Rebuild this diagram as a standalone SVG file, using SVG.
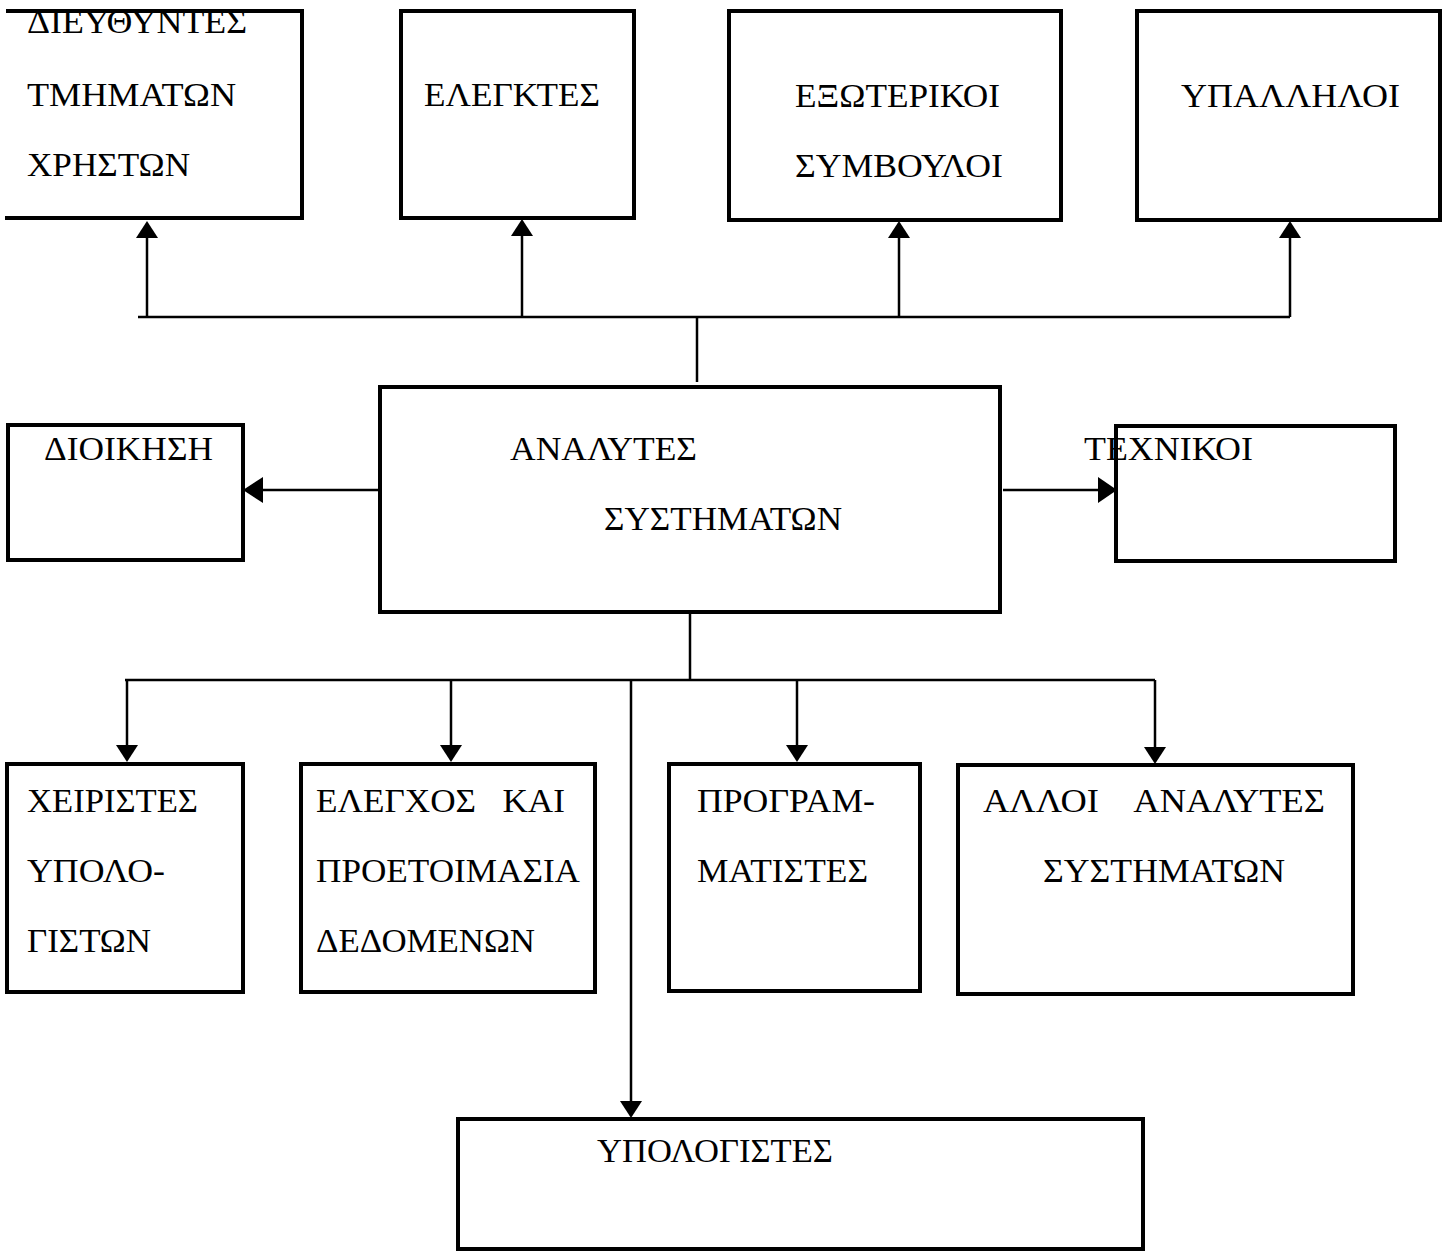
<svg xmlns="http://www.w3.org/2000/svg" width="1445" height="1253" viewBox="0 0 1445 1253">
<style>
.box{fill:none;stroke:#000;stroke-width:4;stroke-linejoin:miter}
.t{font-family:"Liberation Serif","Times New Roman",serif;font-size:33px;fill:#000}
.c{fill:none;stroke:#000;stroke-width:2.5}
.ah{fill:#000}
</style>
<defs>
<path id="up" d="M0,0 L11,17 L-11,17 Z"/>
<path id="down" d="M0,0 L11,-17 L-11,-17 Z"/>
</defs>
<rect width="1445" height="1253" fill="#fff"/>
<g id="connectors">
<path class="c" d="M138,317 H1290"/>
<path class="c" d="M697,317 V382"/>
<path class="c" d="M147,317 V235"/>
<path class="c" d="M522,317 V232"/>
<path class="c" d="M899,317 V234"/>
<path class="c" d="M1290,317 V234"/>
<use class="ah" href="#up" x="147" y="221"/>
<use class="ah" href="#up" x="522" y="219"/>
<use class="ah" href="#up" x="899" y="221"/>
<use class="ah" href="#up" x="1290" y="221"/>
<path class="c" d="M380,490 H258"/>
<path class="ah" d="M243,490 L263,477 L263,503 Z"/>
<path class="c" d="M1003,490 H1102"/>
<path class="ah" d="M1117,490 L1098,477 L1098,503 Z"/>
<path class="c" d="M690,612 V680"/>
<path class="c" d="M125,680 H1155"/>
<path class="c" d="M127,680 V748"/>
<path class="c" d="M451,680 V748"/>
<path class="c" d="M797,680 V748"/>
<path class="c" d="M1155,680 V750"/>
<path class="c" d="M631,680 V1104"/>
<use class="ah" href="#down" x="127" y="762"/>
<use class="ah" href="#down" x="451" y="762"/>
<use class="ah" href="#down" x="797" y="762"/>
<use class="ah" href="#down" x="1155" y="764"/>
<use class="ah" href="#down" x="631" y="1118"/>
</g>
<g id="n-dieuthyntes">
<path class="box" d="M6,11 H302 V218 H5"/>
<text class="t" x="27" y="33" textLength="220" lengthAdjust="spacingAndGlyphs">ΔΙΕΥΘΥΝΤΕΣ</text>
<text class="t" x="27" y="106" textLength="209" lengthAdjust="spacingAndGlyphs">ΤΜΗΜΑΤΩΝ</text>
<text class="t" x="27" y="176" textLength="163" lengthAdjust="spacingAndGlyphs">ΧΡΗΣΤΩΝ</text>
</g>
<g id="n-elegktes">
<rect class="box" x="401" y="11" width="233" height="207"/>
<text class="t" x="424" y="106" textLength="176" lengthAdjust="spacingAndGlyphs">ΕΛΕΓΚΤΕΣ</text>
</g>
<g id="n-exoterikoi">
<rect class="box" x="729" y="11" width="332" height="209"/>
<text class="t" x="795" y="107" textLength="205" lengthAdjust="spacingAndGlyphs">ΕΞΩΤΕΡΙΚΟΙ</text>
<text class="t" x="795" y="177" textLength="208" lengthAdjust="spacingAndGlyphs">ΣΥΜΒΟΥΛΟΙ</text>
</g>
<g id="n-ypalliloi">
<rect class="box" x="1137" y="11" width="303" height="209"/>
<text class="t" x="1181" y="107" textLength="219" lengthAdjust="spacingAndGlyphs">ΥΠΑΛΛΗΛΟΙ</text>
</g>
<g id="n-analytes">
<rect class="box" x="380" y="387" width="620" height="225"/>
<text class="t" x="510" y="460" textLength="187" lengthAdjust="spacingAndGlyphs">ΑΝΑΛΥΤΕΣ</text>
<text class="t" x="604" y="530" textLength="238" lengthAdjust="spacingAndGlyphs">ΣΥΣΤΗΜΑΤΩΝ</text>
</g>
<g id="n-dioikisi">
<rect class="box" x="8" y="425" width="235" height="135"/>
<text class="t" x="44" y="460" textLength="169" lengthAdjust="spacingAndGlyphs">ΔΙΟΙΚΗΣΗ</text>
</g>
<g id="n-technikoi">
<rect class="box" x="1116" y="426" width="279" height="135"/>
<text class="t" x="1084" y="460" textLength="169" lengthAdjust="spacingAndGlyphs">ΤΕΧΝΙΚΟΙ</text>
</g>
<g id="n-cheiristes">
<rect class="box" x="7" y="764" width="236" height="228"/>
<text class="t" x="27" y="812" textLength="171" lengthAdjust="spacingAndGlyphs">ΧΕΙΡΙΣΤΕΣ</text>
<text class="t" x="27" y="882" textLength="138" lengthAdjust="spacingAndGlyphs">ΥΠΟΛΟ-</text>
<text class="t" x="27" y="952" textLength="124" lengthAdjust="spacingAndGlyphs">ΓΙΣΤΩΝ</text>
</g>
<g id="n-elegchos">
<rect class="box" x="301" y="764" width="294" height="228"/>
<text class="t" x="316" y="812" textLength="249" lengthAdjust="spacingAndGlyphs" xml:space="preserve" style="white-space:pre">ΕΛΕΓΧΟΣ   ΚΑΙ</text>
<text class="t" x="316" y="882" textLength="264" lengthAdjust="spacingAndGlyphs">ΠΡΟΕΤΟΙΜΑΣΙΑ</text>
<text class="t" x="316" y="952" textLength="219" lengthAdjust="spacingAndGlyphs">ΔΕΔΟΜΕΝΩΝ</text>
</g>
<g id="n-programmatistes">
<rect class="box" x="669" y="764" width="251" height="227"/>
<text class="t" x="697" y="812" textLength="178" lengthAdjust="spacingAndGlyphs">ΠΡΟΓΡΑΜ-</text>
<text class="t" x="697" y="882" textLength="171" lengthAdjust="spacingAndGlyphs">ΜΑΤΙΣΤΕΣ</text>
</g>
<g id="n-alloi">
<rect class="box" x="958" y="765" width="395" height="229"/>
<text class="t" x="983" y="812" textLength="342" lengthAdjust="spacingAndGlyphs" xml:space="preserve" style="white-space:pre">ΑΛΛΟΙ    ΑΝΑΛΥΤΕΣ</text>
<text class="t" x="1043" y="882" textLength="242" lengthAdjust="spacingAndGlyphs">ΣΥΣΤΗΜΑΤΩΝ</text>
</g>
<g id="n-ypologistes">
<rect class="box" x="458" y="1119" width="685" height="130"/>
<text class="t" x="597" y="1162" textLength="236" lengthAdjust="spacingAndGlyphs">ΥΠΟΛΟΓΙΣΤΕΣ</text>
</g>
</svg>
